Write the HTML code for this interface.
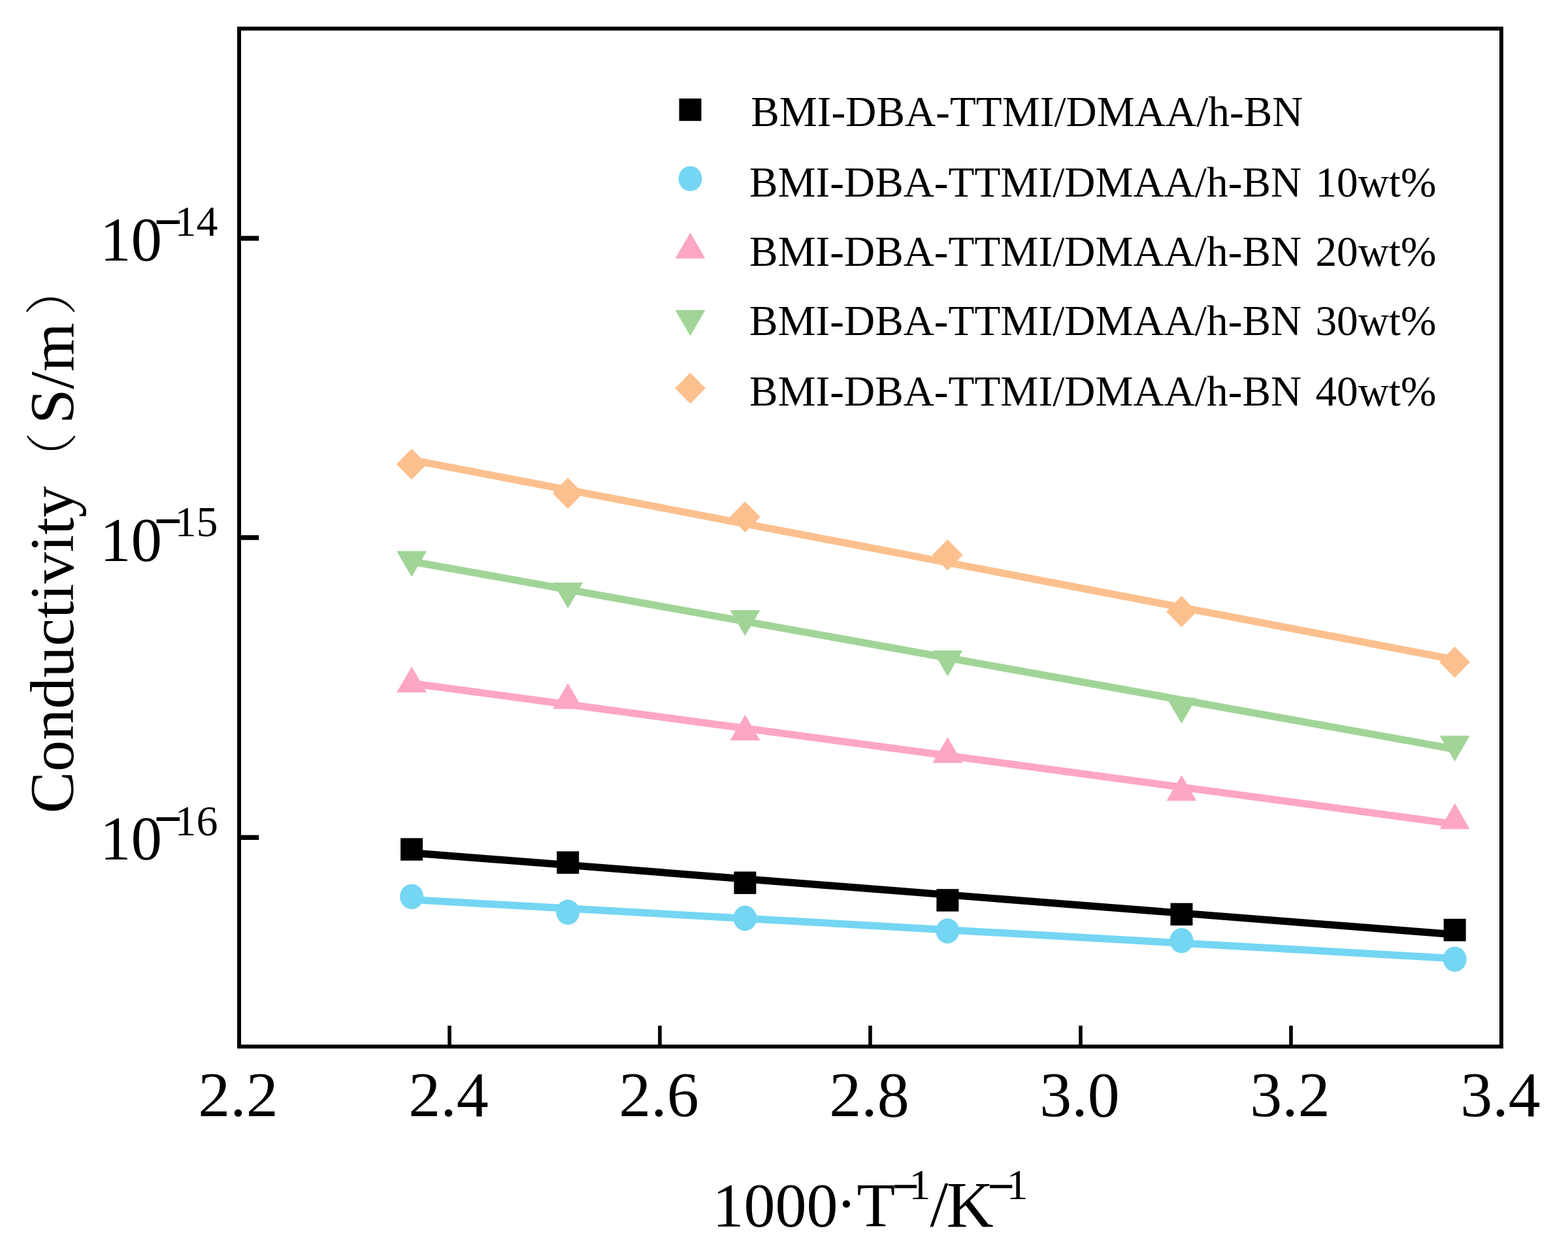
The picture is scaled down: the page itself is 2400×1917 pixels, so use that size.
<!DOCTYPE html>
<html><head><meta charset="utf-8"><title>Conductivity vs 1000/T</title>
<style>html,body{margin:0;padding:0;background:#fff;overflow:hidden;}svg{display:block;}</style></head>
<body><svg width="2400" height="1917" viewBox="0 0 2400 1917">
<rect width="2400" height="1917" fill="#fff"/>
<g font-family="Liberation Serif, Times New Roman, serif" fill="#000">
<line x1="630.1" y1="704.2" x2="2226.7" y2="1010.1" stroke="#FCC08E" stroke-width="11.2"/>
<line x1="630.1" y1="859.7" x2="2226.7" y2="1146.9" stroke="#A0D597" stroke-width="11.2"/>
<line x1="630.1" y1="1046.4" x2="2226.7" y2="1261.7" stroke="#FDA6C5" stroke-width="11.2"/>
<line x1="630.1" y1="1305.8" x2="2226.7" y2="1430.9" stroke="#000000" stroke-width="11.2"/>
<line x1="630.1" y1="1377.5" x2="2226.7" y2="1467.6" stroke="#74D6F2" stroke-width="11.2"/>
<polygon points="630.1,686.9 653.4,710.7 630.1,734.5 606.8,710.7" fill="#FCC08E"/>
<polygon points="869.2,731.5 892.5,755.3 869.2,779.1 845.9,755.3" fill="#FCC08E"/>
<polygon points="1140.4,767.7 1163.7,791.5 1140.4,815.3 1117.1,791.5" fill="#FCC08E"/>
<polygon points="1450.4,825.9 1473.7,849.7 1450.4,873.5 1427.1,849.7" fill="#FCC08E"/>
<polygon points="1808.5,912.6 1831.8,936.4 1808.5,960.2 1785.2,936.4" fill="#FCC08E"/>
<polygon points="2226.7,990.1 2250,1013.9 2226.7,1037.7 2203.4,1013.9" fill="#FCC08E"/>
<polygon points="607.1,843.8 653.1,843.8 630.1,883.3" fill="#A0D597"/>
<polygon points="846.2,891.9 892.2,891.9 869.2,931.4" fill="#A0D597"/>
<polygon points="1117.4,934.3 1163.4,934.3 1140.4,973.8" fill="#A0D597"/>
<polygon points="1427.4,996 1473.4,996 1450.4,1035.5" fill="#A0D597"/>
<polygon points="1785.5,1068.5 1831.5,1068.5 1808.5,1108" fill="#A0D597"/>
<polygon points="2203.7,1126.4 2249.7,1126.4 2226.7,1165.9" fill="#A0D597"/>
<polygon points="630.1,1020.7 653.1,1060.2 607.1,1060.2" fill="#FDA6C5"/>
<polygon points="869.2,1046.1 892.2,1085.6 846.2,1085.6" fill="#FDA6C5"/>
<polygon points="1140.4,1094.2 1163.4,1133.7 1117.4,1133.7" fill="#FDA6C5"/>
<polygon points="1450.4,1128.8 1473.4,1168.3 1427.4,1168.3" fill="#FDA6C5"/>
<polygon points="1808.5,1186.8 1831.5,1226.3 1785.5,1226.3" fill="#FDA6C5"/>
<polygon points="2226.7,1229.9 2249.7,1269.4 2203.7,1269.4" fill="#FDA6C5"/>
<rect x="613.1" y="1283.3" width="34" height="34.4" fill="#000000"/>
<rect x="852.2" y="1303.5" width="34" height="34.4" fill="#000000"/>
<rect x="1123.4" y="1334.5" width="34" height="34.4" fill="#000000"/>
<rect x="1433.4" y="1361.2" width="34" height="34.4" fill="#000000"/>
<rect x="1791.5" y="1382.7" width="34" height="34.4" fill="#000000"/>
<rect x="2209.7" y="1406.8" width="34" height="34.4" fill="#000000"/>
<ellipse cx="630.1" cy="1372.9" rx="18" ry="19.2" fill="#74D6F2"/>
<ellipse cx="869.2" cy="1396.7" rx="18" ry="19.2" fill="#74D6F2"/>
<ellipse cx="1140.4" cy="1406" rx="18" ry="19.2" fill="#74D6F2"/>
<ellipse cx="1450.4" cy="1425.5" rx="18" ry="19.2" fill="#74D6F2"/>
<ellipse cx="1808.5" cy="1440.2" rx="18" ry="19.2" fill="#74D6F2"/>
<ellipse cx="2226.7" cy="1468.7" rx="18" ry="19.2" fill="#74D6F2"/>
<rect x="366" y="43.75" width="1932" height="1558.7" fill="none" stroke="#000" stroke-width="6"/>
<line x1="688" y1="1602.4" x2="688" y2="1570.5" stroke="#000" stroke-width="5.6"/>
<line x1="1010" y1="1602.4" x2="1010" y2="1570.5" stroke="#000" stroke-width="5.6"/>
<line x1="1332" y1="1602.4" x2="1332" y2="1570.5" stroke="#000" stroke-width="5.6"/>
<line x1="1654" y1="1602.4" x2="1654" y2="1570.5" stroke="#000" stroke-width="5.6"/>
<line x1="1976" y1="1602.4" x2="1976" y2="1570.5" stroke="#000" stroke-width="5.6"/>
<line x1="366" y1="364.9" x2="396.2" y2="364.9" stroke="#000" stroke-width="7.4"/>
<line x1="366" y1="823.1" x2="396.2" y2="823.1" stroke="#000" stroke-width="7.4"/>
<line x1="366" y1="1282.3" x2="396.2" y2="1282.3" stroke="#000" stroke-width="7.4"/>
<text x="364.5" y="1709.3" text-anchor="middle" font-size="98">2.2</text>
<text x="686.5" y="1709.3" text-anchor="middle" font-size="98">2.4</text>
<text x="1008.5" y="1709.3" text-anchor="middle" font-size="98">2.6</text>
<text x="1330.5" y="1709.3" text-anchor="middle" font-size="98">2.8</text>
<text x="1652.5" y="1709.3" text-anchor="middle" font-size="98">3.0</text>
<text x="1974.5" y="1709.3" text-anchor="middle" font-size="98">3.2</text>
<text x="2296.5" y="1709.3" text-anchor="middle" font-size="98">3.4</text>
<text x="153" y="399.1" font-size="95">10<tspan x="237" y="363.8" font-size="72" stroke="#000" stroke-width="2">−</tspan><tspan x="267.5" y="360.8" font-size="66">14</tspan></text>
<text x="153" y="859.1" font-size="95">10<tspan x="237" y="822.4" font-size="72" stroke="#000" stroke-width="2">−</tspan><tspan x="267.5" y="820.5" font-size="66">15</tspan></text>
<text x="153" y="1315.7" font-size="95">10<tspan x="237" y="1278.3" font-size="72" stroke="#000" stroke-width="2">−</tspan><tspan x="267.5" y="1279.1" font-size="66">16</tspan></text>
<text y="1878" font-size="96"><tspan x="1090.5">1000</tspan><tspan x="1279.4" y="1875.4">·</tspan><tspan x="1311.4" y="1878">T</tspan><tspan x="1366.3" y="1840.1" font-size="70" stroke="#000" stroke-width="1.6">−</tspan><tspan x="1391.5" y="1836.4" font-size="66">1</tspan><tspan x="1423.4" y="1877.4" font-size="100">/</tspan><tspan x="1448.5" y="1878" font-size="100">K</tspan><tspan x="1512.5" y="1840.1" font-size="70" stroke="#000" stroke-width="1.6">−</tspan><tspan x="1540.8" y="1836.4" font-size="66">1</tspan></text>
<text transform="translate(112.3,1245.5) rotate(-90)" x="0" y="0" font-size="96">Conductivity<tspan x="504.1" y="-3.9" font-size="80" font-weight="200" font-family="Liberation Serif, Noto Serif CJK SC, serif">（</tspan><tspan x="596.4" y="0" font-size="96">S/m</tspan><tspan x="762.4" y="-5.6" font-size="80" font-weight="200" font-family="Liberation Serif, Noto Serif CJK SC, serif">）</tspan></text>
<rect x="1039.5" y="150.8" width="34" height="34.4" fill="#000000"/>
<text x="1149.2" y="193.0" font-size="65.3">BMI-DBA-TTMI/DMAA/h-BN</text>
<ellipse cx="1056.5" cy="273.6" rx="18" ry="19.2" fill="#74D6F2"/>
<text x="1146.9" y="300.9" font-size="65.3">BMI-DBA-TTMI/DMAA/h-BN<tspan dx="5"> 10wt%</tspan></text>
<polygon points="1056.5,356.3 1079.5,395.8 1033.5,395.8" fill="#FDA6C5"/>
<text x="1146.9" y="407.0" font-size="65.3">BMI-DBA-TTMI/DMAA/h-BN<tspan dx="5"> 20wt%</tspan></text>
<polygon points="1033.5,474.8 1079.5,474.8 1056.5,514.3" fill="#A0D597"/>
<text x="1146.9" y="513.2" font-size="65.3">BMI-DBA-TTMI/DMAA/h-BN<tspan dx="5"> 30wt%</tspan></text>
<polygon points="1056.5,570.6 1079.8,594.4 1056.5,618.2 1033.2,594.4" fill="#FCC08E"/>
<text x="1146.9" y="621.0" font-size="65.3">BMI-DBA-TTMI/DMAA/h-BN<tspan dx="5"> 40wt%</tspan></text>
</g></svg></body></html>
